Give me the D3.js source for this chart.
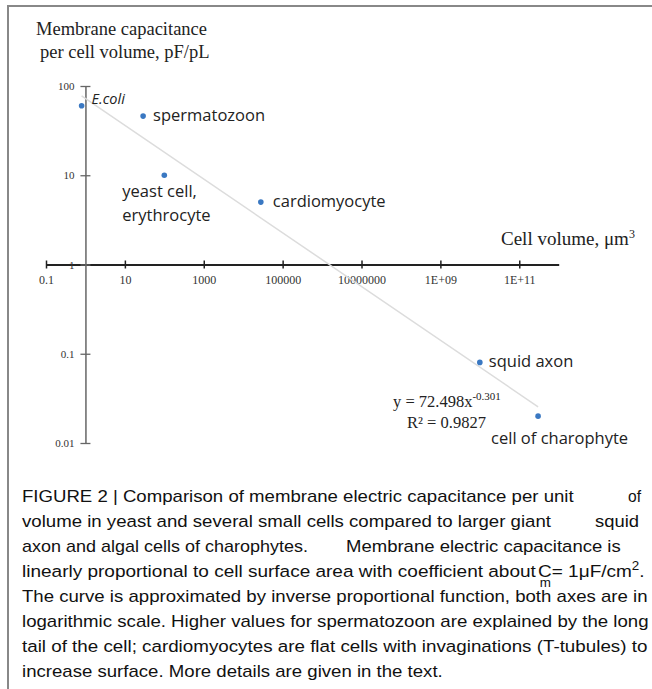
<!DOCTYPE html>
<html>
<head>
<meta charset="utf-8">
<script src="https://cdn.jsdelivr.net/npm/d3@7"></script>
<style>
  html, body { margin: 0; padding: 0; background: #fff; }
  svg { display: block; }
</style>
</head>
<body>
<svg id="chart" width="652" height="689"></svg>
<script>
// data
const cells = ['E.coli', 'spermatozoon', 'yeast cell, erythrocyte', 'cardiomyocyte', 'squid axon', 'cell of charophyte'];
const volumes = [0.8, 29, 100, 28000, 1e10, 3e11];        // µm³
const capacitances = [60, 46, 10, 5, 0.08, 0.02];         // pF/pL

const xTicks = [0.1, 10, 1000, 1e5, 1e7, 1e9, 1e11];
const xTickLabels = ['0.1', '10', '1000', '100000', '10000000', '1E+09', '1E+11'];
const yTicks = [0.01, 0.1, 1, 10, 100];
const yTickLabels = ['0.01', '0.1', '1', '10', '100'];

// power trend y = a * x^b
const trendA = 72.498;
const trendB = -0.301;
const trendR2 = 0.9827;

const SERIF = '"Liberation Serif", "Times New Roman", serif';
const SANS = '"Open Sans", "Noto Sans", sans-serif';
const CAPTION = '"Liberation Sans", Arial, sans-serif';

const svg = d3.select('#chart');

// frame
svg.append('line').attr('x1', 8).attr('x2', 652).attr('y1', 6).attr('y2', 6)
  .attr('stroke', '#888').attr('stroke-width', 2);
svg.append('line').attr('x1', 8).attr('x2', 8).attr('y1', 5).attr('y2', 689)
  .attr('stroke', '#888').attr('stroke-width', 2);

const x = d3.scaleLog().domain([0.1, 1e12]).range([46, 558.7]);
const y = d3.scaleLog().domain([0.01, 100]).range([443, 86]);

// x axis crosses at y = 1, y axis crosses at x = 1
const xAxis = d3.axisBottom(x)
  .tickValues(xTicks)
  .tickFormat((d, i) => xTickLabels[i])
  .tickSizeOuter(0)
  .tickSizeInner(4);

svg.append('g')
  .attr('transform', `translate(0,${y(1)})`)
  .call(xAxis)
  .call(g => g.select('.domain').attr('stroke', '#222').attr('stroke-width', 1.8))
  .call(g => g.selectAll('.tick line').attr('y1', -4).attr('y2', 4).attr('stroke', '#222').attr('stroke-width', 1.5))
  .call(g => g.selectAll('.tick text')
    .attr('y', 19).attr('dy', null)
    .attr('font-family', SERIF).attr('font-size', 12).attr('fill', '#333'));

const yAxis = d3.axisLeft(y)
  .tickValues(yTicks)
  .tickFormat((d, i) => yTickLabels[i])
  .tickSizeOuter(0)
  .tickSizeInner(5);

svg.append('g')
  .attr('transform', `translate(${x(1)},0)`)
  .call(yAxis)
  .call(g => g.select('.domain').attr('stroke', '#666').attr('stroke-width', 1.5))
  .call(g => g.selectAll('.tick line').attr('x1', -5).attr('x2', 5).attr('stroke', '#666').attr('stroke-width', 1.3))
  .call(g => g.selectAll('.tick text')
    .attr('x', -11)
    .attr('font-family', SERIF).attr('font-size', 11).attr('fill', '#333'));

// trend line
const xExt = d3.extent(volumes);
const trendLine = d3.line().x(d => x(d)).y(d => y(trendA * Math.pow(d, trendB)));
svg.append('path')
  .attr('d', trendLine(xExt))
  .attr('fill', 'none')
  .attr('stroke', '#dcdcdc')
  .attr('stroke-width', 1.5);

// points
const points = cells.map((name, i) => ({name, v: volumes[i], c: capacitances[i]}));
svg.append('g').selectAll('circle')
  .data(points)
  .join('circle')
  .attr('cx', d => x(d.v))
  .attr('cy', d => y(d.c))
  .attr('r', 2.8)
  .attr('fill', '#3a78c2');

// point labels (offsets relative to the point)
const labelPos = {
  'E.coli': {dx: 10, dy: -2, lines: ['E.coli'], italic: true, size: 14.5},
  'spermatozoon': {dx: 10, dy: 5, lines: ['spermatozoon']},
  'yeast cell, erythrocyte': {dx: -42, dy: 22, lines: ['yeast cell,', 'erythrocyte']},
  'cardiomyocyte': {dx: 12, dy: 5, lines: ['cardiomyocyte']},
  'squid axon': {dx: 9, dy: 5, lines: ['squid axon']},
  'cell of charophyte': {dx: -47, dy: 28, lines: ['cell of charophyte']}
};
const labels = svg.append('g').attr('font-family', SANS).attr('fill', '#222');
points.forEach(p => {
  const o = labelPos[p.name];
  const t = labels.append('text')
    .attr('x', x(p.v) + o.dx)
    .attr('y', y(p.c) + o.dy)
    .attr('font-size', o.size || 16.5)
    .attr('font-style', o.italic ? 'italic' : null);
  o.lines.forEach((l, j) => {
    t.append('tspan').attr('x', x(p.v) + o.dx).attr('dy', j ? 24 : 0).text(l);
  });
});

// equation
const eq = svg.append('g').attr('font-family', SERIF).attr('font-size', 16.5).attr('fill', '#222');
const eqText = eq.append('text').attr('x', 393).attr('y', 407);
eqText.append('tspan').text(`y = ${trendA}x`);
eqText.append('tspan').attr('font-size', 11).attr('dy', -7).text(`${trendB}`);
eq.append('text').attr('x', 407).attr('y', 428).text('R² = ' + trendR2);

// axis titles
const titles = svg.append('g').attr('font-family', SERIF).attr('font-size', 18.5).attr('fill', '#222');
titles.append('text').attr('x', 36).attr('y', 35).text('Membrane capacitance');
titles.append('text').attr('x', 40).attr('y', 58).text('per cell volume, pF/pL');
const xt = titles.append('text').attr('x', 501).attr('y', 245).attr('font-size', 19);
xt.append('tspan').text('Cell volume, μm');
xt.append('tspan').attr('font-size', 12).attr('dy', -7).text('3');

// caption: each segment is stretched horizontally to the span it has in the figure
const cap = svg.append('g').attr('font-family', CAPTION).attr('font-size', 17).attr('fill', '#111');
const lineH = 25, firstBase = 502;
function placeSeg(str, x0, x1, row) {
  const g = cap.append('g');
  const t = g.append('text').attr('x', 0).attr('y', firstBase + row * lineH).text(str);
  const w = t.node().getComputedTextLength();
  g.attr('transform', `translate(${x0},0) scale(${(x1 - x0) / w},1)`);
  return g;
}
placeSeg('FIGURE 2 | Comparison of membrane electric capacitance per unit', 22, 574, 0);
placeSeg('of', 628, 641, 0);
placeSeg('volume in yeast and several small cells compared to larger giant', 22, 551, 1);
placeSeg('squid', 595, 639, 1);
placeSeg('axon and algal cells of charophytes.', 22, 308, 2);
placeSeg('Membrane electric capacitance is', 346, 621, 2);

// line 4: C with subscript m, cm squared
{
  const g = cap.append('g');
  const base = firstBase + 3 * lineH;
  const t = g.append('text').attr('x', 0).attr('y', base);
  const pre = 'linearly proportional to cell surface area with coefficient about';
  t.append('tspan').text(pre);
  t.append('tspan').attr('dx', 2).text('C');
  t.append('tspan').text('= 1μF/cm');
  t.append('tspan').attr('font-size', 12).attr('dy', -7).text('2');
  t.append('tspan').attr('dy', 7).text('.');
  const cx = t.node().getSubStringLength(0, pre.length);
  g.append('text').attr('x', cx + 3).attr('y', base + 10).attr('font-size', 12).text('m');
  const w = t.node().getComputedTextLength();
  g.attr('transform', `translate(22,0) scale(${(643 - 22) / w},1)`);
}
placeSeg('The curve is approximated by inverse proportional function, both axes are in', 22, 648, 4);
placeSeg('logarithmic scale. Higher values for spermatozoon are explained by the long', 22, 649, 5);
placeSeg('tail of the cell; cardiomyocytes are flat cells with invaginations (T-tubules) to', 22, 648, 6);
placeSeg('increase surface. More details are given in the text.', 22, 443, 7);
</script>
</body>
</html>
